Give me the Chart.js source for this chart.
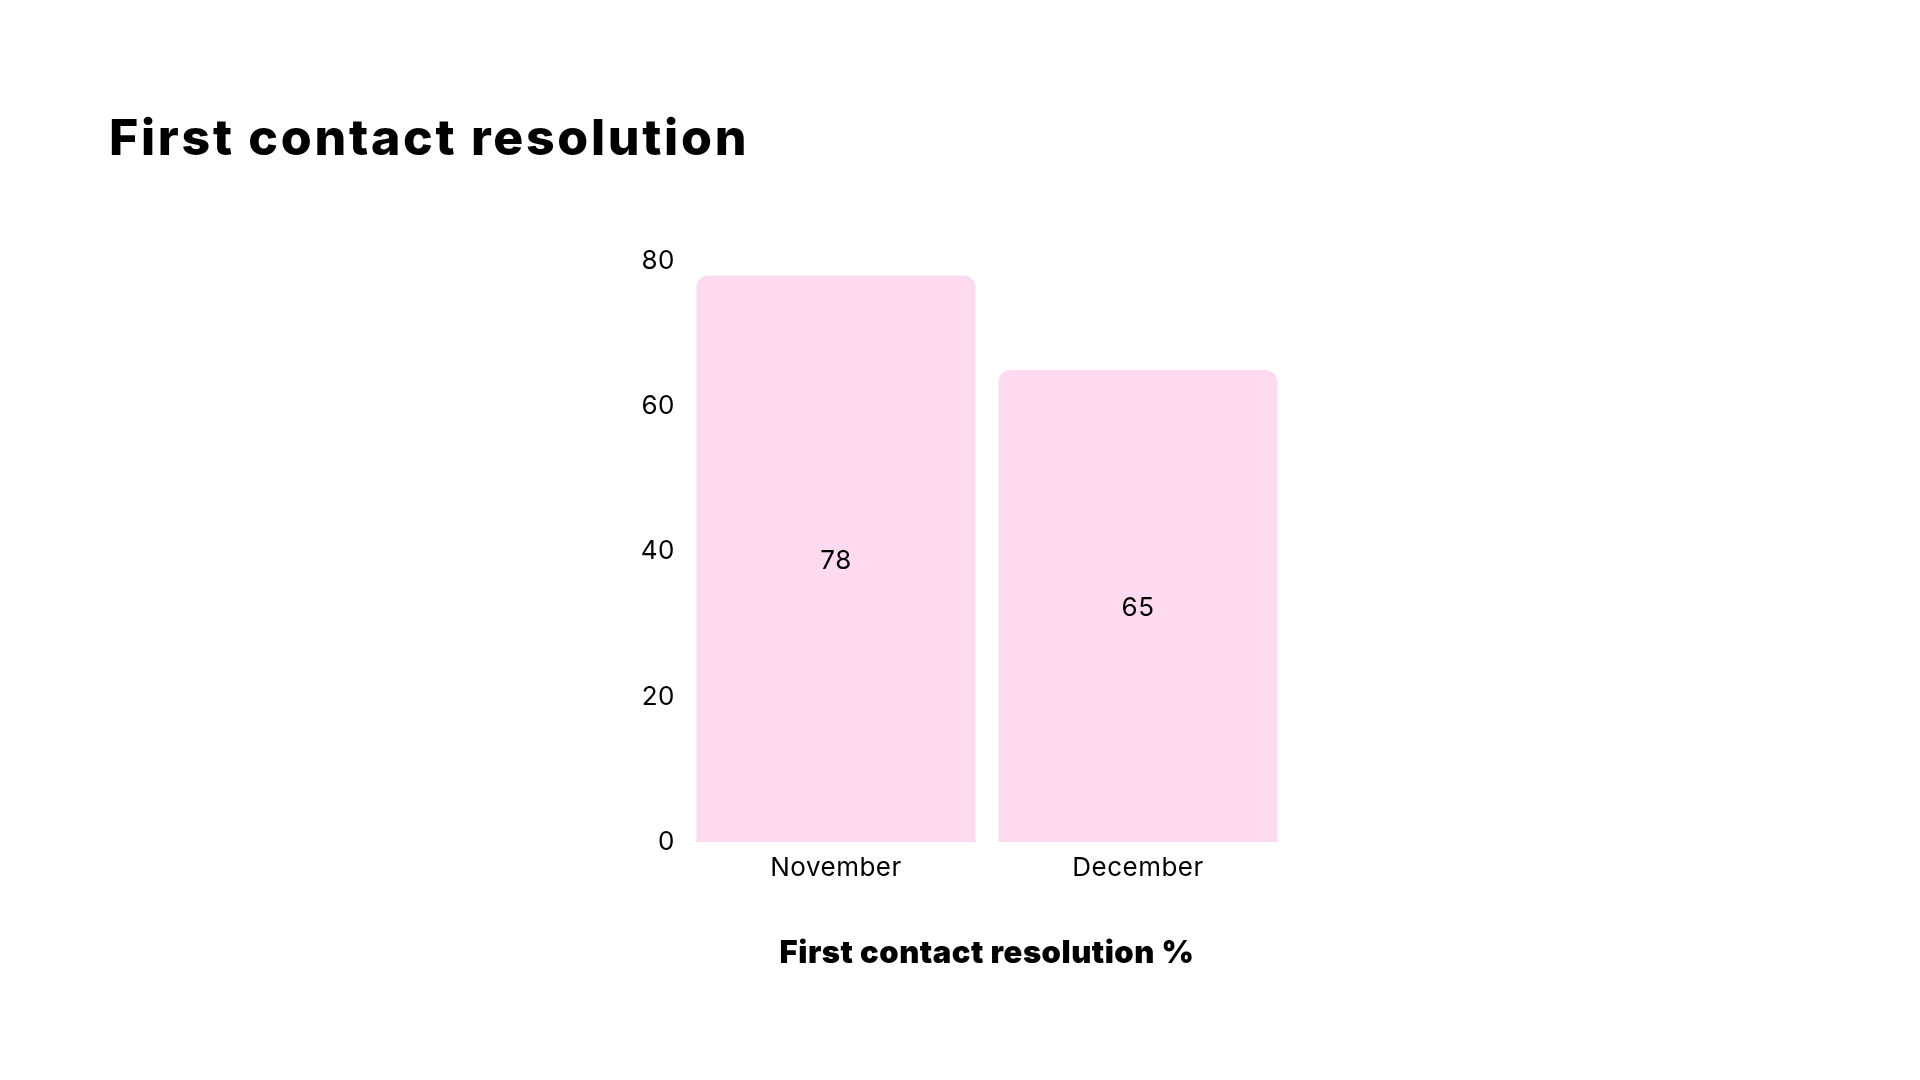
<!DOCTYPE html>
<html>
<head>
<meta charset="utf-8">
<title>First contact resolution</title>
<script src="https://cdn.jsdelivr.net/npm/chart.js@4/dist/chart.umd.min.js"></script>
<style>
  html, body { margin: 0; padding: 0; background: #ffffff; }
  body { width: 1920px; height: 1080px; position: relative; overflow: hidden; }
  h1 {
    position: absolute; left: 109px; top: 112px; margin: 0;
    font-family: Inter, sans-serif; font-weight: 800; font-size: 50px; line-height: 1;
    color: #000000; letter-spacing: 2.7px;
  }
  #wrap { position: absolute; left: 0; top: 0; width: 1920px; height: 1080px; }
</style>
</head>
<body>
<h1>First contact resolution</h1>
<div id="wrap"><canvas id="fcrChart"></canvas></div>
<script>
// datos
const months = ["November", "December"];
const fcrValues = [78, 65];
const yTicks = [0, 20, 40, 60, 80];
const axisTitle = "First contact resolution %";

const barColor = "#fddaef";
const textColor = "#000000";

// un poco de espacio entre letras para todo el texto del canvas
const textSpacing = {
    id: "textSpacing",
    beforeDraw(chart) {
        chart.ctx.letterSpacing = "0.5px";
    }
};

// etiqueta de valor en el centro de cada barra
const centerLabels = {
    id: "centerLabels",
    afterDatasetsDraw(chart) {
        const ctx = chart.ctx;
        const meta = chart.getDatasetMeta(0);
        ctx.save();
        ctx.font = "400 26px Inter, sans-serif";
        ctx.fillStyle = textColor;
        ctx.textAlign = "center";
        ctx.textBaseline = "middle";
        meta.data.forEach((bar, i) => {
            const { x, y, base } = bar.getProps(["x", "y", "base"], true);
            ctx.fillText(String(chart.data.datasets[0].data[i]), x, (y + base) / 2 + 2);
        });
        ctx.restore();
    }
};

const config = {
    type: "bar",
    data: {
        labels: months,
        datasets: [{
            label: axisTitle,
            data: fcrValues,
            backgroundColor: barColor,
            borderWidth: 0,
            borderRadius: { topLeft: 12, topRight: 12, bottomLeft: 0, bottomRight: 0 },
            borderSkipped: "start",
            categoryPercentage: 1,
            barPercentage: 0.924
        }]
    },
    options: {
        responsive: false,
        animation: false,
        layout: { padding: { left: 600, right: 631, top: 261, bottom: 108 } },
        plugins: {
            legend: { display: false },
            tooltip: { enabled: false }
        },
        scales: {
            x: {
                grid: { display: false, drawTicks: false },
                border: { display: false },
                ticks: { color: textColor, padding: 11, font: { family: "Inter", size: 26 } },
                title: {
                    display: true,
                    text: axisTitle,
                    color: textColor,
                    padding: { top: 0, bottom: 0 },
                    font: { family: "Inter", size: 31, weight: "900" }
                },
                afterFit(scale) { scale.height = 130; }
            },
            y: {
                min: 0,
                max: 80,
                afterBuildTicks(scale) { scale.ticks = yTicks.map(v => ({ value: v })); },
                grid: { display: false, drawTicks: false },
                border: { display: false },
                ticks: { color: textColor, padding: 10, font: { family: "Inter", size: 26 } },
                afterFit(scale) { scale.width = 85; }
            }
        }
    },
    plugins: [textSpacing, centerLabels]
};

const canvas = document.querySelector("#fcrChart");
canvas.width = 1920;
canvas.height = 1080;
canvas.chart = new Chart(canvas, config);
</script>
</body>
</html>
